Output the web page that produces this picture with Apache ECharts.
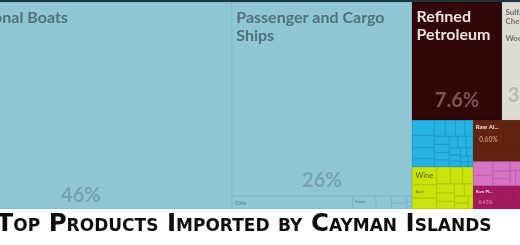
<!DOCTYPE html>
<html><head><meta charset="utf-8">
<script src="https://cdn.jsdelivr.net/npm/echarts@6/dist/echarts.min.js"></script>
<style>
html,body{margin:0;padding:0;background:#fff;overflow:hidden}
#chart{position:absolute;left:0;top:0;width:520px;height:245px}
#topline{position:absolute;left:0;top:0;width:520px;height:2px;background:#1d3440}
</style>
</head><body>
<div id="chart"></div><div id="topline"></div>
<script>
// ---- data (shares of total imports, %) ----
const titleText = 'Top Products Imported by Cayman Islands';

const sectorNames = ['Transportation', 'Mineral Products', 'Paper Goods', 'Other Products',
  'Machines', 'Foodstuffs', 'Metals', 'Chemical Products', 'Plastics and Rubbers', 'Remaining Products'];

const transportNames = ['Recreational Boats', 'Passenger and Cargo Ships', 'Cars', 'Tractors',
  'Delivery Trucks', 'Vehicle Parts', 'Motorcycles', 'Buses', 'Trailers', 'Bicycles'];
const transportShares = [46, 25.74, 1.167, 0.225, 0.151, 0.08, 0.065, 0.022, 0.02, 0.011];

const mineralNames = ['Refined Petroleum', 'Petroleum Gas', 'Coal Briquettes'];
const mineralShares = [7.6, 0.12, 0.1];

const paperNames = ['Sulfate Chemical Woodpulp'];
const paperShares = [3.7];

const otherNames = ['Other Products'];
const otherShares = [3.62];

const machineNames = ['Computers', 'Broadcasting Equipment', 'Air Conditioners', 'Telephones',
  'Electrical Transformers', 'Valves', 'Refrigerators', 'Electric Motors', 'Pumps',
  'Electric Generators', 'Engine Parts', 'Insulated Wire', 'Lighting Fixtures', 'Electric Heaters',
  'Washing Machines', 'Office Machine Parts', 'Video Displays', 'Electrical Control Boards',
  'Batteries', 'Air Pumps', 'Centrifuges', 'Lifting Machinery', 'Semiconductor Devices', 'Electric Filament'];
const machineShares = [0.25, 0.2, 0.18, 0.14, 0.13, 0.12, 0.11, 0.1, 0.09, 0.09, 0.08, 0.08,
  0.07, 0.07, 0.06, 0.06, 0.05, 0.05, 0.04, 0.04, 0.03, 0.03, 0.02, 0.02];

const foodNames = ['Wine', 'Beer', 'Hard Liquor', 'Baked Goods', 'Sauces and Seasonings',
  'Flavored Water', 'Other Edible Preparations', 'Coffee and Tea Extracts', 'Chocolate',
  'Pasta', 'Cereals', 'Animal Food', 'Frozen Vegetables', 'Rolled Tobacco'];
const foodShares = [0.32, 0.24, 0.2, 0.17, 0.15, 0.13, 0.12, 0.11, 0.1, 0.09, 0.08, 0.07, 0.06, 0.047];

const metalNames = ['Raw Aluminium', 'Aluminium Bars', 'Iron Structures', 'Screws and Bolts', 'Iron Pipes'];
const metalShares = [0.6, 0.33, 0.2, 0.18, 0.14];

const chemicalNames = ['Packaged Medicaments', 'Cleaning Products', 'Beauty Products', 'Soap',
  'Insecticides', 'Paints', 'Hair Products', 'Perfumes'];
const chemicalShares = [0.2, 0.15, 0.12, 0.1, 0.09, 0.07, 0.06, 0.058];

const plasticNames = ['Raw Plastic Sheeting', 'Plastic Lids', 'Rubber Tires', 'Plastic Pipes'];
const plasticShares = [0.43, 0.2, 0.1, 0.084];

const remainingNames = ['Remaining Products'];
const remainingShares = [4.27];

// ---- styles ----
const sectorItems = [
  [transportNames, transportShares], [mineralNames, mineralShares], [paperNames, paperShares],
  [otherNames, otherShares], [machineNames, machineShares], [foodNames, foodShares],
  [metalNames, metalShares], [chemicalNames, chemicalShares], [plasticNames, plasticShares],
  [remainingNames, remainingShares]
];
const sectorColor = ['#8fc7d4', '#310609', '#dedbd4', '#e8c060', '#27b3e3', '#c8e40c', '#60230f', '#d873c4', '#a3195f', '#9a9a9a'];
const sectorBorder = ['#7cb3c1', '#200305', '#c9c5bd', '#c9a24a', '#1c95c2', '#a8c20a', '#5a200e', '#b85aa6', '#9c175b', '#808080'];

const nameStyle = {
  'Recreational Boats': {fontSize: 16, lineHeight: 18, color: '#51707b', padding: [6, 4, 0, 4]},
  'Passenger and Cargo Ships': {fontSize: 16, lineHeight: 18, color: '#51707b', padding: [6, 4, 0, 4]},
  'Refined Petroleum': {fontSize: 16, lineHeight: 18, color: '#efe3e3', padding: [5, 4, 0, 4]},
  'Sulfate Chemical Woodpulp': {fontSize: 8, lineHeight: 8.5, color: '#736d66', padding: [6, 3, 0, 3]},
  'Cars': {fontSize: 5.5, lineHeight: 6, color: '#51707b', fontWeight: 'normal', padding: [4, 3, 0, 3]},
  'Tractors': {fontSize: 3, lineHeight: 3, color: '#51707b', fontWeight: 'normal', padding: [4, 2, 0, 2]},
  'Wine': {fontSize: 7.5, lineHeight: 8, color: '#56621a', fontWeight: 'normal', padding: [4, 3, 0, 3]},
  'Beer': {fontSize: 4, lineHeight: 4, color: '#56621a', fontWeight: 'normal', padding: [4, 3, 0, 3]},
  'Raw Aluminium': {fontSize: 6, lineHeight: 7, color: '#f3e6e0', padding: [3, 2, 0, 2], overflow: 'truncate', ellipsis: '...'},
  'Raw Plastic Sheeting': {fontSize: 4.5, lineHeight: 5, color: '#f6dce8', padding: [3, 2, 0, 2], overflow: 'truncate', ellipsis: '...'}
};
const shareStyle = {
  'Recreational Boats': {fontSize: 20, color: '#78a3b0', padding: [0, 0, 3, 0]},
  'Passenger and Cargo Ships': {fontSize: 20, color: '#78a3b0', padding: [0, 0, 5, 0]},
  'Refined Petroleum': {fontSize: 20, color: '#7c5355', padding: [0, 0, 6, 0]},
  'Sulfate Chemical Woodpulp': {fontSize: 20, color: '#bdb9b1', padding: [0, 0, 15, 0]},
  'Raw Aluminium': {fontSize: 6.5, color: '#c99280', padding: [0, 0, 3, 0]},
  'Raw Plastic Sheeting': {fontSize: 5, color: '#dc78a6', padding: [0, 0, 4, 0]}
};
const clear = {color: 'transparent', borderColor: 'transparent', borderWidth: 0};

function buildData(forShares) {
  return sectorNames.map((sName, si) => {
    const [names, vals] = sectorItems[si];
    return {
      name: sName,
      itemStyle: forShares ? clear : {color: sectorColor[si], borderColor: sectorColor[si], borderWidth: 0},
      children: names.map((n, i) => {
        const node = {name: n, value: vals[i]};
        const st = forShares ? shareStyle[n] : nameStyle[n];
        node.itemStyle = forShares ? clear :
          {color: sectorColor[si], borderColor: sectorBorder[si], borderWidth: 0.5};
        node.label = st ? Object.assign({show: true}, st) : {show: false};
        return node;
      })
    };
  });
}

const common = {
  type: 'treemap', left: -70, top: 2, width: 656, height: 207,
  roam: false, nodeClick: false, sort: false, silent: true,
  breadcrumb: {show: false}, upperLabel: {show: false},
  animation: false
};

const chart = echarts.init(document.getElementById('chart'), null, {renderer: 'canvas'});
chart.setOption({
  animation: false,
  title: {
    text: titleText, left: 244, top: 212.5, textAlign: 'center', padding: 0,
    textStyle: {fontFamily: 'DejaVu Sans', fontStyle: 'small-caps', fontWeight: 'bold', fontSize: 24.5, color: '#0d0d0d'}
  },
  series: [
    Object.assign({}, common, {
      itemStyle: {borderWidth: 0, gapWidth: 0},
      label: {show: false, position: 'insideTopLeft', distance: 0, fontFamily: 'Lato', fontWeight: 'bold', overflow: 'break'},
      data: buildData(false)
    }),
    Object.assign({}, common, {
      itemStyle: clear,
      label: {show: false, position: 'insideBottom', distance: 0, fontFamily: 'Lato', fontWeight: 'bold',
        formatter: p => Number(p.value).toPrecision(2) + '%'},
      data: buildData(true)
    })
  ]
});
</script>
</body></html>
